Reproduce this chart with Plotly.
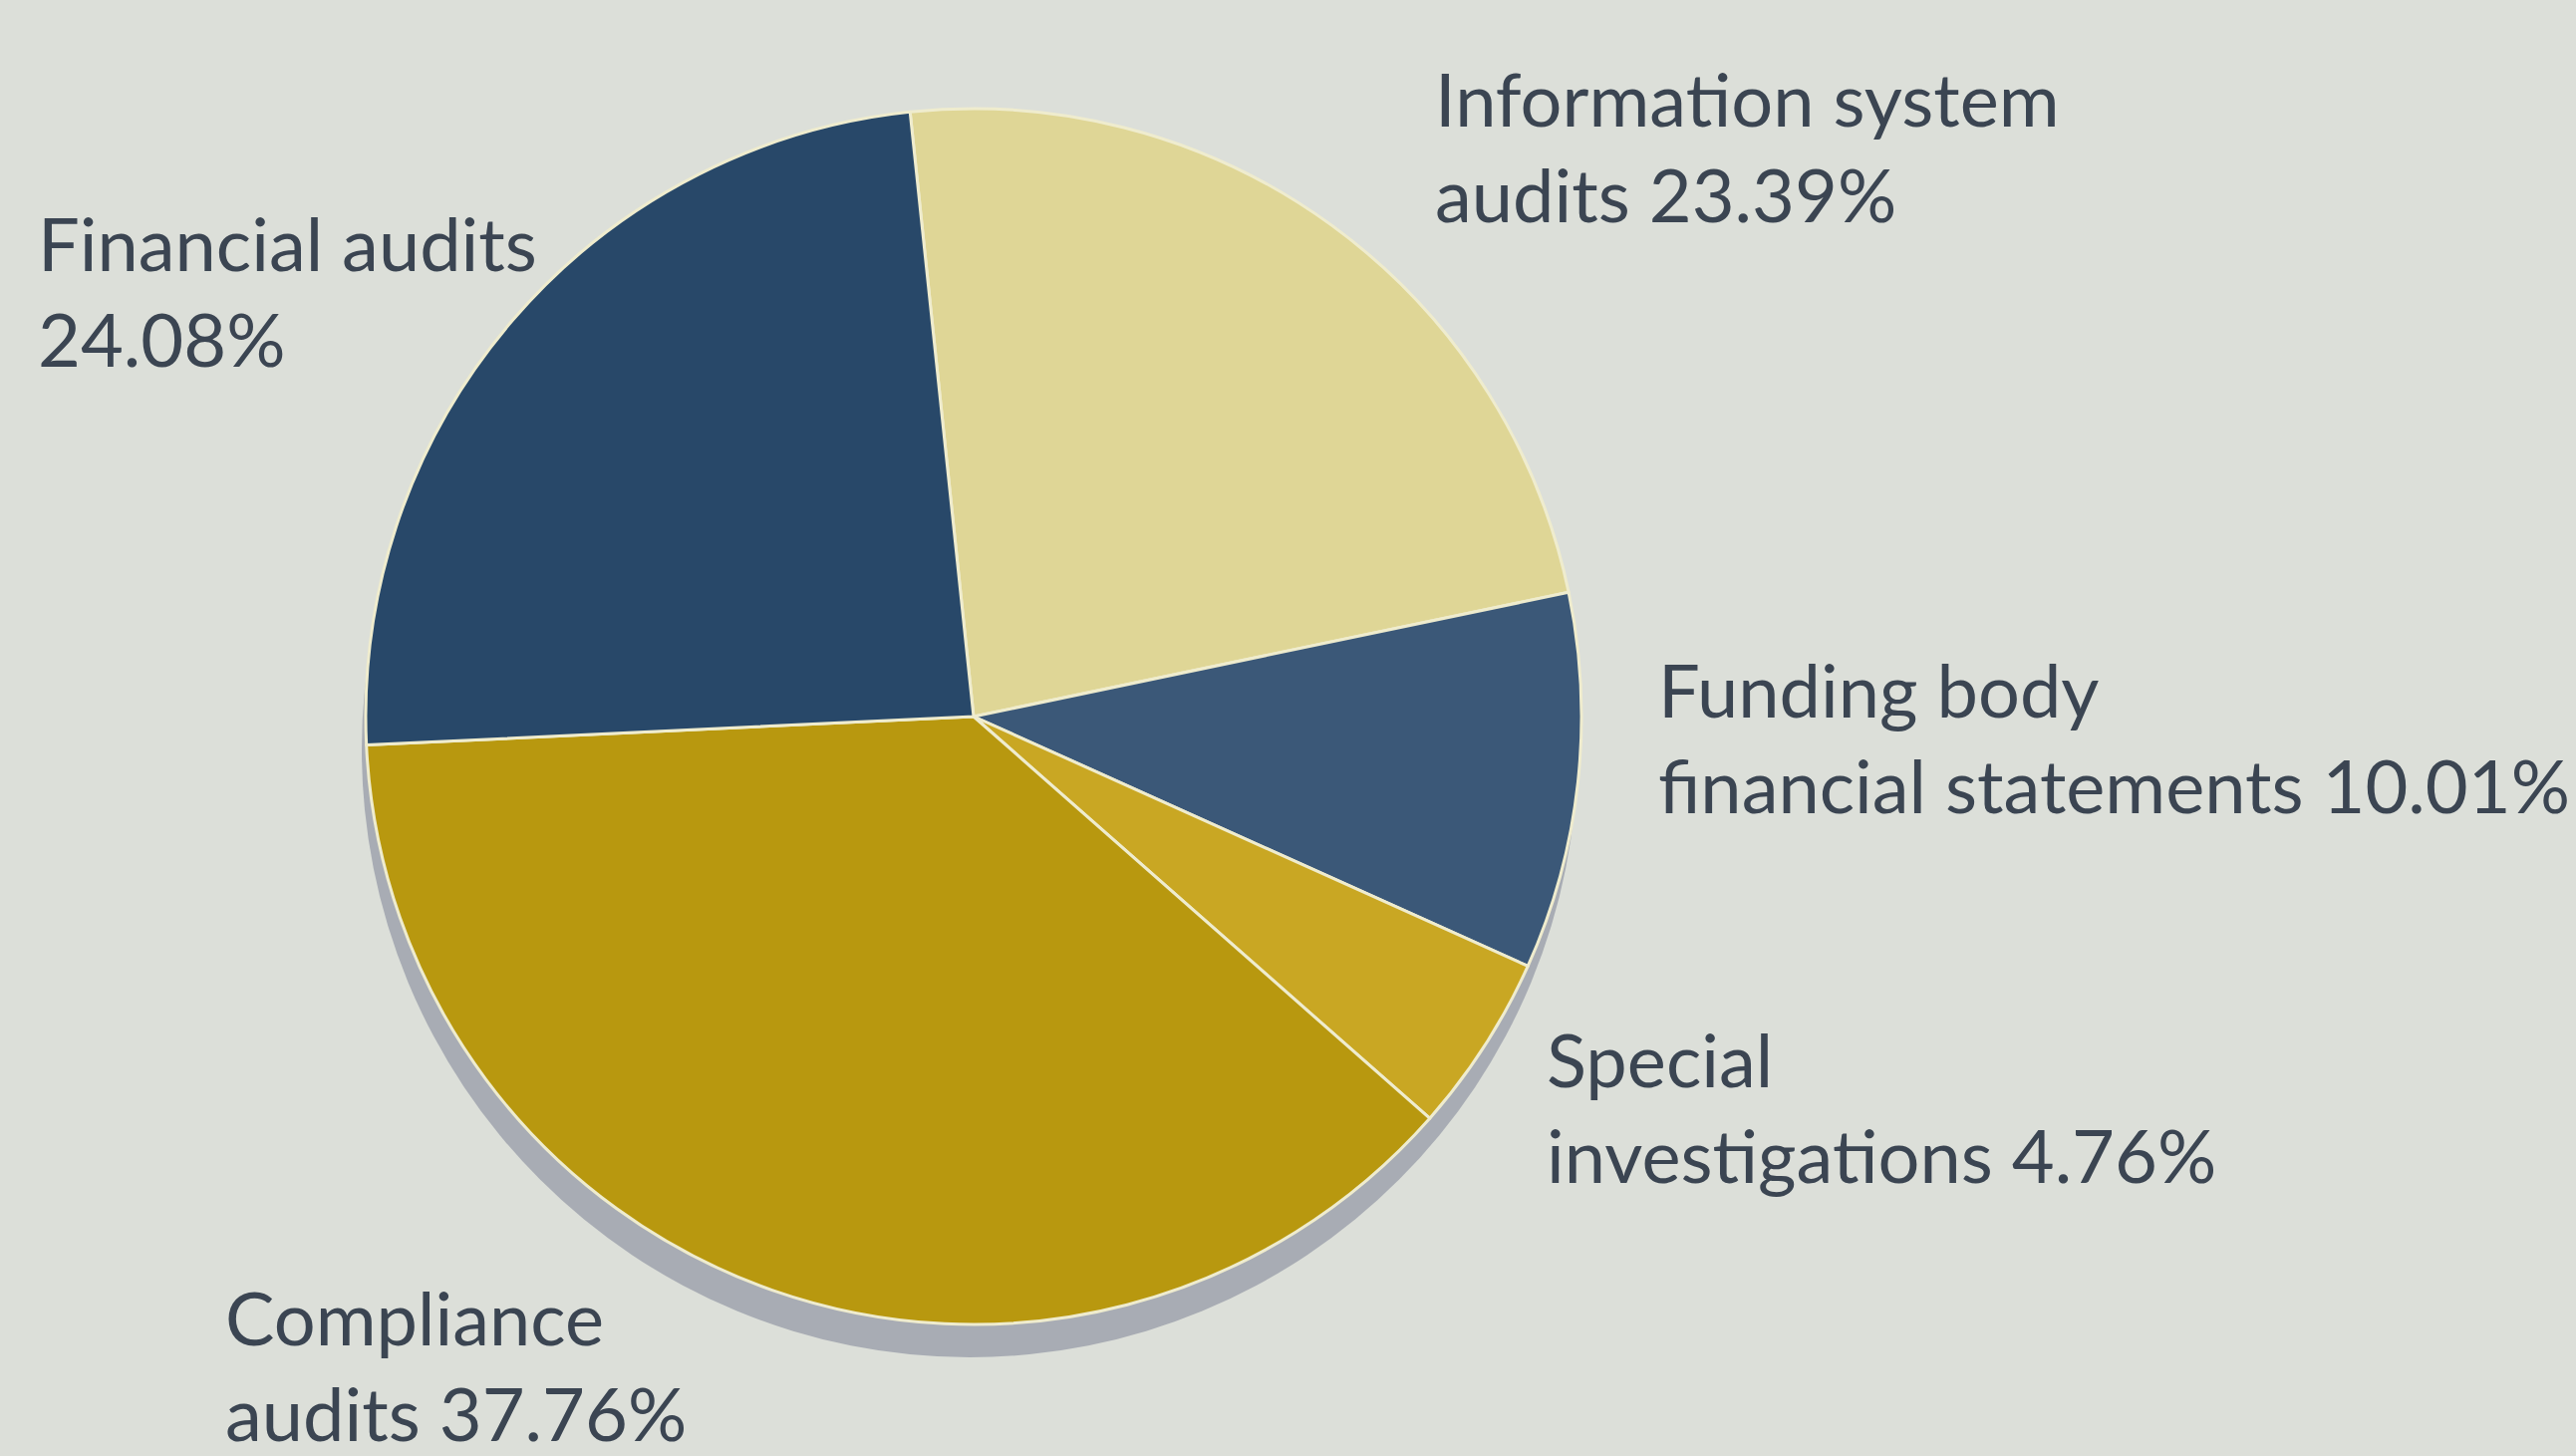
import plotly.graph_objects as go

# Share of audit work by type (percent), in clockwise order from 12 o'clock
categories = [
    "Information system audits",
    "Funding body financial statements",
    "Special investigations",
    "Compliance audits",
    "Financial audits",
]
label_line1 = ["Information system", "Funding body", "Special", "Compliance", "Financial audits"]
label_line2 = ["audits ", "financial statements ", "investigations ", "audits ", ""]
shares = [23.39, 10.01, 4.76, 37.76, 24.08]

slice_colors = ["#dfd696", "#3b5878", "#c9a723", "#b8980f", "#284869"]

W, H = 2585, 1461
BG = "#dcdfd9"
TEXT = "#3b4552"
FONT = "Lato, Open Sans, sans-serif"
FONT_SIZE = 74

# pie geometry in pixels
cx, cy, r = 977, 719, 610
rim_dx, rim_dy = -4, 33

# label anchors (left edge, vertical centre) in pixels from top-left
label_pos = [(1438, 146), (1662, 739), (1550, 1110), (224, 1369), (36, 291)]


def dom(x0, y0, rad):
    return dict(
        x=[(x0 - rad) / W, (x0 + rad) / W],
        y=[(H - y0 - rad) / H, (H - y0 + rad) / H],
    )


fig = go.Figure()

# grey rim giving the disc its thickness
fig.add_trace(go.Pie(
    values=[sum(shares)],
    labels=["rim"],
    domain=dom(cx + rim_dx, cy + rim_dy, r),
    marker=dict(colors=["#a8acb4"], line=dict(width=0)),
    textinfo="none",
    hoverinfo="skip",
    showlegend=False,
    sort=False,
))

fig.add_trace(go.Pie(
    values=shares,
    labels=categories,
    domain=dom(cx, cy, r),
    sort=False,
    direction="clockwise",
    rotation=-6,
    marker=dict(colors=slice_colors, line=dict(color="#efecce", width=3)),
    textinfo="none",
    hovertemplate="%{label}: %{value:.2f}%<extra></extra>",
    showlegend=False,
))

for (lx, ly), a, b, v in zip(label_pos, label_line1, label_line2, shares):
    fig.add_annotation(
        x=lx / W, y=1 - ly / H, xref="paper", yref="paper",
        xanchor="left", yanchor="middle", align="left",
        text=f"{a}<br>{b}{v:.2f}%",
        showarrow=False,
        font=dict(family=FONT, size=FONT_SIZE, color=TEXT),
    )

fig.update_layout(
    width=W, height=H,
    margin=dict(l=0, r=0, t=0, b=0),
    paper_bgcolor=BG, plot_bgcolor=BG,
    showlegend=False,
)

fig.write_html("out.html")
